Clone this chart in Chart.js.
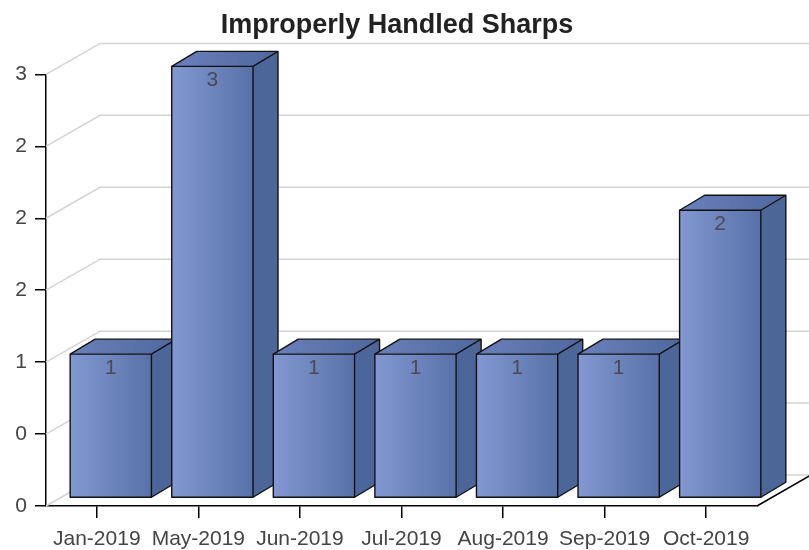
<!DOCTYPE html>
<html>
<head>
<meta charset="utf-8">
<script src="https://cdn.jsdelivr.net/npm/chart.js@4.4.1/dist/chart.umd.min.js"></script>
<style>
  html, body { margin: 0; padding: 0; background: #fff; }
  #wrap { width: 809px; height: 550px; }
</style>
</head>
<body>
<div id="wrap"><canvas id="chart"></canvas></div>
<script>
const months = ['Jan-2019', 'May-2019', 'Jun-2019', 'Jul-2019', 'Aug-2019', 'Sep-2019', 'Oct-2019'];
const sharps = [1, 3, 1, 1, 1, 1, 2];
const yTickLabels = ['0', '0', '1', '2', '2', '2', '3'];

const FONT = "'Liberation Sans', Arial, sans-serif";

// desplazamientos del efecto 3D
const wallDepth = { dx: 54, dy: -31 };
const barShift = { dx: 14, dy: -8 };
const barDepth = { dx: 25, dy: -15 };

const box3d = {
  id: 'box3d',
  beforeDatasetsDraw(chart) {
    const { ctx, chartArea, scales: { y } } = chart;
    ctx.save();
    // rejilla: pared izquierda + pared del fondo
    ctx.strokeStyle = '#d4d4d4';
    ctx.lineWidth = 1.5;
    y.ticks.forEach(t => {
      const py = y.getPixelForValue(t.value);
      ctx.beginPath();
      ctx.moveTo(chartArea.left, py);
      ctx.lineTo(chartArea.left + wallDepth.dx, py + wallDepth.dy);
      ctx.lineTo(chart.width, py + wallDepth.dy);
      ctx.stroke();
    });
    // borde derecho del suelo
    ctx.strokeStyle = '#000';
    ctx.beginPath();
    ctx.moveTo(chartArea.right, chartArea.bottom);
    ctx.lineTo(chartArea.right + wallDepth.dx, chartArea.bottom + wallDepth.dy);
    ctx.stroke();
    ctx.restore();
  },
  afterDatasetsDraw(chart) {
    const { ctx } = chart;
    const meta = chart.getDatasetMeta(0);
    ctx.save();
    ctx.lineJoin = 'round';
    meta.data.forEach((bar, i) => {
      const { x, y, base, width } = bar.getProps(['x', 'y', 'base', 'width'], true);
      const L = x - width / 2 + barShift.dx;
      const R = x + width / 2 + barShift.dx;
      const T = y + barShift.dy;
      const B = base + barShift.dy;
      const dx = barDepth.dx, dy = barDepth.dy;

      // cara frontal
      const gf = ctx.createLinearGradient(L, 0, R, 0);
      gf.addColorStop(0, '#8398d2');
      gf.addColorStop(1, '#5871a9');
      ctx.fillStyle = gf;
      ctx.fillRect(L, T, R - L, B - T);

      // cara superior
      const gt = ctx.createLinearGradient(L, 0, R + dx, 0);
      gt.addColorStop(0, '#6a80bb');
      gt.addColorStop(1, '#4f679e');
      ctx.fillStyle = gt;
      ctx.beginPath();
      ctx.moveTo(L, T);
      ctx.lineTo(L + dx, T + dy);
      ctx.lineTo(R + dx, T + dy);
      ctx.lineTo(R, T);
      ctx.closePath();
      ctx.fill();

      // cara lateral
      ctx.fillStyle = '#4d6699';
      ctx.beginPath();
      ctx.moveTo(R, T);
      ctx.lineTo(R + dx, T + dy);
      ctx.lineTo(R + dx, B + dy);
      ctx.lineTo(R, B);
      ctx.closePath();
      ctx.fill();

      // contornos
      ctx.strokeStyle = '#111';
      ctx.lineWidth = 1.4;
      ctx.strokeRect(L, T, R - L, B - T);
      ctx.beginPath();
      ctx.moveTo(L, T);
      ctx.lineTo(L + dx, T + dy);
      ctx.lineTo(R + dx, T + dy);
      ctx.lineTo(R + dx, B + dy);
      ctx.lineTo(R, B);
      ctx.moveTo(R, T);
      ctx.lineTo(R + dx, T + dy);
      ctx.stroke();

      // etiqueta del valor
      ctx.fillStyle = '#474b55';
      ctx.font = '21px ' + FONT;
      ctx.textAlign = 'center';
      ctx.textBaseline = 'middle';
      ctx.fillText(String(sharps[i]), (L + R) / 2, T + 14);
    });
    ctx.restore();
  }
};

new Chart(document.getElementById('chart'), {
  type: 'bar',
  data: {
    labels: months,
    datasets: [{
      data: sharps,
      backgroundColor: 'rgba(0,0,0,0)',
      borderWidth: 0
    }]
  },
  plugins: [box3d],
  options: {
    responsive: true,
    maintainAspectRatio: false,
    animation: false,
    layout: { padding: { right: 15 } },
    datasets: { bar: { barPercentage: 0.8, categoryPercentage: 1 } },
    plugins: {
      legend: { display: false },
      tooltip: { enabled: false },
      title: {
        display: true,
        text: 'Improperly Handled Sharps',
        color: '#222',
        font: { size: 27, weight: 'bold', family: FONT },
        padding: { top: 9, bottom: 33 }
      }
    },
    scales: {
      x: {
        grid: { offset: false, drawOnChartArea: false, tickLength: 12, color: '#000', lineWidth: 1.5 },
        border: { color: '#000', width: 1.5 },
        ticks: { color: '#444', font: { size: 21, family: FONT }, padding: 9, maxRotation: 0, autoSkip: false },
        afterFit(s) { s.height = 44; }
      },
      y: {
        min: 0,
        max: 3,
        ticks: {
          stepSize: 0.5,
          callback: (v, i) => yTickLabels[i],
          color: '#444',
          font: { size: 21, family: FONT },
          padding: 8
        },
        grid: { drawOnChartArea: false, tickLength: 11, color: '#000', lineWidth: 1.5 },
        border: { color: '#000', width: 1.5 },
        afterFit(s) { s.width = 46; }
      },
      y2: {
        position: 'right',
        grid: { display: false },
        border: { display: false },
        ticks: { display: false },
        afterFit(s) { s.width = 37; }
      }
    }
  }
});
</script>
</body>
</html>
